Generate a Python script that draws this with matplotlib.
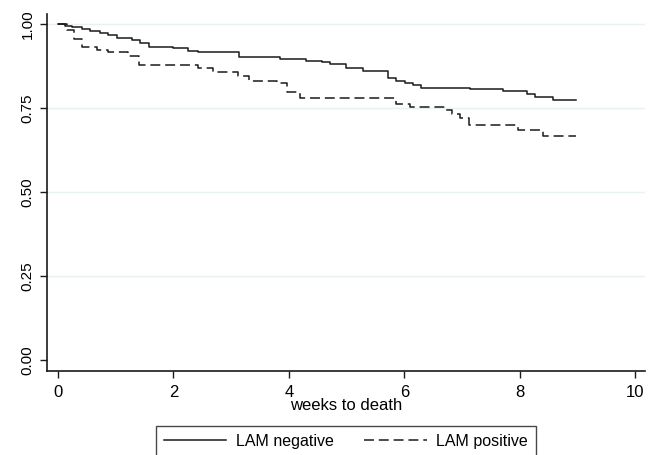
import numpy as np
import matplotlib
matplotlib.use('Agg')
import matplotlib.pyplot as plt

plt.rcParams['font.family'] = ['Liberation Sans', 'DejaVu Sans']

# Kaplan-Meier step points
neg_t = [0, 0.12, 0.24, 0.42, 0.55, 0.73, 0.87, 1.02, 1.28, 1.42, 1.58, 1.99, 2.25, 2.43,
         3.14, 3.85, 4.30, 4.58, 4.71, 4.99, 5.29, 5.72, 5.86, 6.01, 6.15, 6.29, 7.14,
         7.71, 8.13, 8.27, 8.58, 8.98]
neg_s = [1.000, 0.994, 0.990, 0.985, 0.979, 0.972, 0.967, 0.960, 0.952, 0.943, 0.932, 0.928,
         0.921, 0.916, 0.902, 0.897, 0.891, 0.887, 0.880, 0.869, 0.860, 0.838, 0.831, 0.824,
         0.818, 0.811, 0.807, 0.800, 0.793, 0.783, 0.774, 0.774]

pos_t = [0, 0.16, 0.28, 0.42, 0.68, 0.87, 1.21, 1.40, 2.43, 2.69, 3.12, 3.31, 3.80, 3.97,
         4.19, 5.86, 6.10, 6.72, 6.83, 6.97, 7.12, 7.97, 8.41, 8.98]
pos_s = [1.000, 0.981, 0.957, 0.931, 0.924, 0.918, 0.906, 0.879, 0.870, 0.856, 0.844, 0.831,
         0.826, 0.798, 0.781, 0.762, 0.754, 0.744, 0.732, 0.719, 0.699, 0.685, 0.666, 0.666]

x_ticks = [0, 2, 4, 6, 8, 10]
y_ticks = [0.00, 0.25, 0.50, 0.75, 1.00]
y_labels = ['0.00', '0.25', '0.50', '0.75', '1.00']

fig = plt.figure(figsize=(6.52, 4.55), dpi=100)
ax = fig.add_axes([47 / 652, 84 / 455, 598 / 652, 357 / 455])

# faint grid lines
for yv in y_ticks[1:]:
    ax.axhline(yv, color='#e9f1f2', linewidth=1.0, zorder=0)

ax.step(neg_t, neg_s, where='post', color='#1a1a1a', linewidth=1.1, label='LAM negative')
ax.step(pos_t, pos_s, where='post', color='#1a1a1a', linewidth=1.1,
        linestyle=(0, (6.5, 3.2)), label='LAM positive')

ax.set_xlim(-0.19, 10.17)
ax.set_ylim(-0.033, 1.03)
ax.set_xticks(x_ticks)
ax.set_yticks(y_ticks)
ax.set_yticklabels(y_labels, rotation=90, va='center')
ax.tick_params(axis='both', length=5, width=1, color='#1a1a1a')
ax.tick_params(axis='y', labelsize=11, pad=4)
ax.tick_params(axis='x', labelsize=12, pad=5)

for side in ['top', 'right']:
    ax.spines[side].set_visible(False)
for side in ['left', 'bottom']:
    ax.spines[side].set_linewidth(1.2)
    ax.spines[side].set_color('#1a1a1a')

ax.set_xlabel('weeks to death', fontsize=12, labelpad=-1)

fig.legend(loc='upper center', bbox_to_anchor=(346 / 652, 1 - 426 / 455), ncol=2,
           frameon=True, fancybox=False, edgecolor='#1a1a1a', fontsize=11.5,
           handlelength=3.9, handletextpad=0.6, columnspacing=1.9,
           borderpad=0.5, borderaxespad=0)

fig.savefig('out.png', dpi=100)
